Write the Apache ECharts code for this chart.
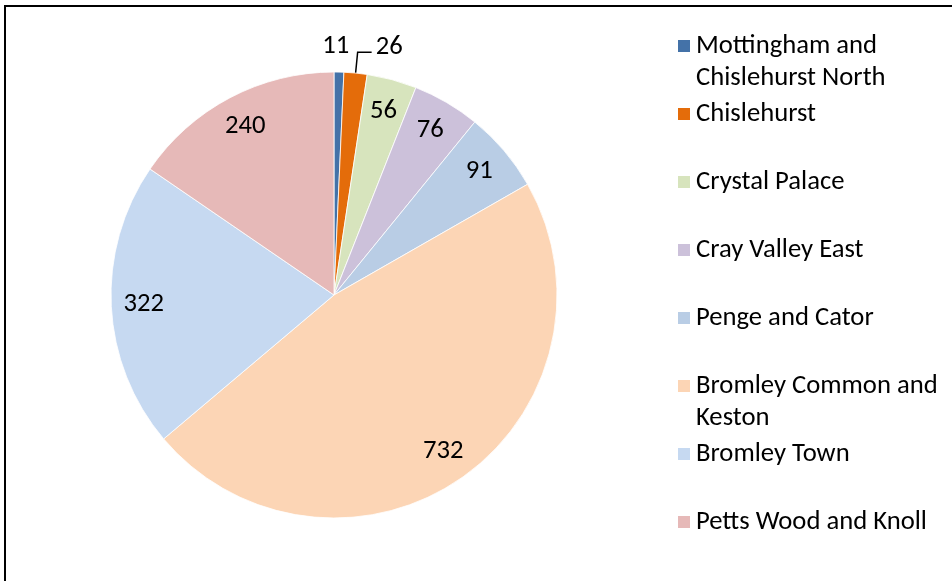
<!DOCTYPE html>
<html>
<head>
<meta charset="utf-8">
<script src="https://cdn.jsdelivr.net/npm/echarts@6/dist/echarts.min.js"></script>
<style>
  html, body { margin: 0; padding: 0; background: #fff; }
  #main { width: 952px; height: 581px; }
</style>
</head>
<body>
<div id="main"></div>
<script>
// ward names and counts, clockwise from 12 o'clock
const wards = [
  "Mottingham and Chislehurst North",
  "Chislehurst",
  "Crystal Palace",
  "Cray Valley East",
  "Penge and Cator",
  "Bromley Common and Keston",
  "Bromley Town",
  "Petts Wood and Knoll"
];
const counts = [11, 26, 56, 76, 91, 732, 322, 240];
const legendText = [
  "Mottingham and\nChislehurst North",
  "Chislehurst",
  "Crystal Palace",
  "Cray Valley East",
  "Penge and Cator",
  "Bromley Common and\nKeston",
  "Bromley Town",
  "Petts Wood and Knoll"
];
const colors = ["#4472A8", "#E46C0A", "#D7E4BD", "#CCC1DA", "#B9CDE5", "#FCD5B5", "#C6D9F1", "#E6B9B8"];

const FONT = "Carlito, Lato, sans-serif";
const FS = 26.67;

let chart = echarts.init(document.getElementById("main"));

let pieData = wards.map(function (w, i) {
  return { name: w, value: counts[i], itemStyle: { color: colors[i] } };
});

// transparent ring only used to put the value labels at ~0.84 r
let labelData = wards.map(function (w, i) {
  let d = { name: w, value: counts[i] };
  if (i === 0) {
    d.label = { position: "outside" };
    d.labelLine = { show: false, length: 14, length2: 0 };
  }
  if (i === 1) {
    d.label = { position: "outside", distanceToLabelLine: 4 };
    d.labelLine = { show: true, length: 21, length2: 14, lineStyle: { color: "#000", width: 1.5 } };
  }
  return d;
});

let option = {
  animation: false,
  textStyle: { fontFamily: FONT },
  legend: {
    orient: "vertical",
    left: 676,
    top: -2,
    padding: 0,
    itemWidth: 14,
    itemHeight: 14,
    itemGap: -28,
    itemTextGap: 8,
    icon: "rect",
    selectedMode: false,
    textStyle: {
      fontFamily: FONT,
      fontSize: FS,
      color: "#000",
      lineHeight: 32
    },
    data: wards,
    // every entry is three lines tall so the first text line sits on the swatch
    formatter: function (name) {
      let t = legendText[wards.indexOf(name)];
      return t.indexOf("\n") >= 0 ? "\n" + t : "\n" + t + "\n ";
    }
  },
  graphic: [
    {
      type: "rect",
      shape: { x: 5, y: 6, width: 1000, height: 1000 },
      style: { fill: "none", stroke: "#000", lineWidth: 2 },
      z: 100
    }
  ],
  series: [
    {
      type: "pie",
      center: [334, 295],
      radius: 223,
      startAngle: 90,
      clockwise: true,
      silent: true,
      label: { show: false },
      labelLine: { show: false },
      itemStyle: { borderColor: "#fff", borderWidth: 0.8 },
      data: pieData
    },
    {
      type: "pie",
      center: [334, 295],
      radius: [152, 223],
      startAngle: 90,
      clockwise: true,
      silent: true,
      legendHoverLink: false,
      avoidLabelOverlap: false,
      itemStyle: { color: "rgba(0,0,0,0)" },
      label: {
        show: true,
        position: "inside",
        fontFamily: FONT,
        fontSize: FS,
        color: "#000",
        formatter: "{c}"
      },
      labelLayout: function (params) {
        if (params.dataIndex === 0) return { dx: -22, dy: -12 };
        if (params.dataIndex === 1) return { dy: -5 };
        return {};
      },
      data: labelData
    }
  ]
};

chart.setOption(option);
</script>
</body>
</html>
